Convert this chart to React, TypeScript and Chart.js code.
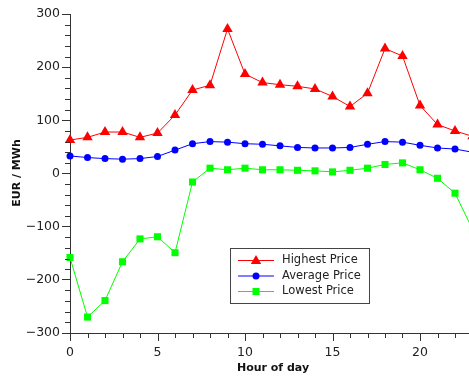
import { useEffect, useRef } from 'react';
import { Chart, registerables } from 'chart.js';

Chart.register(...registerables);

const hours = [0, 1, 2, 3, 4, 5, 6, 7, 8, 9, 10, 11, 12, 13, 14, 15, 16, 17, 18, 19, 20, 21, 22, 23];
const highestPrice = [63, 68, 78, 78, 68, 76, 110, 157, 166, 272, 187, 171, 167, 164, 159, 145, 126, 151, 235, 221, 128, 92, 80, 70];
const averagePrice = [33, 30, 28, 27, 28, 32, 44, 56, 60, 59, 56, 55, 52, 49, 48, 48, 49, 55, 60, 59, 53, 48, 46, 40];
const lowestPrice = [-158, -270, -239, -166, -123, -119, -149, -16, 10, 7, 10, 7, 7, 6, 5, 3, 6, 10, 17, 20, 7, -9, -37, -105];

const seriesLabels = ['Highest Price', 'Average Price', 'Lowest Price'];
const xMajorTicks = [0, 5, 10, 15, 20];
const yMajorTicks = [-300, -200, -100, 0, 100, 200, 300];
const xTitle = 'Hour of day';
const yTitle = 'EUR / MWh';

const FONT = '"DejaVu Sans", sans-serif';
const AXIS = '#333333';

const decorPlugin = {
  id: 'decor',
  afterDraw(chart: any) {
    const ctx = chart.ctx as CanvasRenderingContext2D;
    const xs = chart.scales.x;
    const ys = chart.scales.y;
    const area = chart.chartArea;
    ctx.save();
    // tick marks
    ctx.strokeStyle = AXIS;
    ctx.lineWidth = 1;
    ctx.beginPath();
    for (let v = 0; v <= 22; v++) {
      const px = Math.round(xs.getPixelForValue(v)) + 0.5;
      ctx.moveTo(px, area.bottom);
      ctx.lineTo(px, area.bottom + (v % 5 === 0 ? 8 : 5));
    }
    for (let v = -300; v <= 300; v += 20) {
      if (v % 100 === 0) continue;
      const py = Math.round(ys.getPixelForValue(v)) + 0.5;
      ctx.moveTo(area.left - 5, py);
      ctx.lineTo(area.left, py);
    }
    ctx.stroke();

    // x tick labels
    ctx.fillStyle = '#222';
    ctx.font = `12.5px ${FONT}`;
    ctx.textAlign = 'center';
    ctx.textBaseline = 'middle';
    xMajorTicks.forEach((v) => {
      ctx.fillText(String(v), xs.getPixelForValue(v), 353);
    });

    // axis titles
    ctx.fillStyle = '#111';
    ctx.font = `bold 11px ${FONT}`;
    ctx.textAlign = 'center';
    ctx.textBaseline = 'middle';
    ctx.fillText(xTitle, 273, 368);
    ctx.save();
    ctx.translate(17, 173);
    ctx.rotate(-Math.PI / 2);
    ctx.fillText(yTitle, 0, 0);
    ctx.restore();

    // legend
    const bx = 230.5, by = 248.5, bw = 139, bh = 55;
    ctx.fillStyle = '#ffffff';
    ctx.fillRect(bx, by, bw, bh);
    ctx.strokeStyle = '#444';
    ctx.strokeRect(bx, by, bw, bh);
    chart.data.datasets.forEach((ds: any, i: number) => {
      const y = 260 + i * 15.5;
      ctx.strokeStyle = ds.borderColor;
      ctx.lineWidth = 1;
      ctx.beginPath();
      ctx.moveTo(238, y + 0.5);
      ctx.lineTo(274, y + 0.5);
      ctx.stroke();
      ctx.fillStyle = ds.backgroundColor;
      const cx = 256;
      ctx.beginPath();
      if (ds.pointStyle === 'triangle') {
        const r = 6;
        ctx.moveTo(cx, y - r + 1);
        ctx.lineTo(cx + r * 0.866, y + r / 2 + 1);
        ctx.lineTo(cx - r * 0.866, y + r / 2 + 1);
        ctx.closePath();
      } else if (ds.pointStyle === 'circle') {
        ctx.arc(cx, y + 0.5, 3.5, 0, Math.PI * 2);
      } else {
        ctx.rect(cx - 3.5, y - 3, 7, 7);
      }
      ctx.fill();
      ctx.fillStyle = '#222';
      ctx.font = `11.5px ${FONT}`;
      ctx.textAlign = 'left';
      ctx.textBaseline = 'middle';
      ctx.fillText(ds.label, 282, y + 0.5);
    });
    ctx.restore();
  },
};

export default function App() {
  const ref = useRef<HTMLCanvasElement>(null);
  useEffect(() => {
    document.body.style.margin = '0';
    const canvas = ref.current!;
    const mk = (label: string, data: number[], color: string, style: string, r: number) => ({
      label,
      data: hours.map((h, i) => ({ x: h, y: data[i] })),
      borderColor: color,
      backgroundColor: color,
      borderWidth: 1,
      pointStyle: style,
      pointRadius: r,
      pointBorderWidth: 0,
      tension: 0,
      clip: false as any,
    });
    const chart = new Chart(canvas, {
      type: 'line',
      data: {
        datasets: [
          mk(seriesLabels[0], highestPrice, '#ff0000', 'triangle', 6),
          mk(seriesLabels[1], averagePrice, '#0000ff', 'circle', 3.5),
          mk(seriesLabels[2], lowestPrice, '#00ff00', 'rect', 5),
        ],
      },
      options: {
        animation: false,
        responsive: false,
        maintainAspectRatio: false,
        layout: { autoPadding: false, padding: { top: 14, right: 0, left: 0, bottom: 0 } },
        plugins: { legend: { display: false }, tooltip: { enabled: false } },
        scales: {
          x: {
            type: 'linear',
            min: 0,
            max: 22.8,
            afterBuildTicks: (s: any) => { s.ticks = xMajorTicks.map((v) => ({ value: v })); },
            afterFit: (s: any) => { s.height = 43; },
            grid: { display: false, drawOnChartArea: false, drawTicks: false },
            border: { color: AXIS },
            ticks: { display: false },
          },
          y: {
            type: 'linear',
            min: -300,
            max: 300,
            afterBuildTicks: (s: any) => { s.ticks = yMajorTicks.map((v) => ({ value: v })); },
            afterFit: (s: any) => { s.width = 70; },
            grid: { drawOnChartArea: false, tickLength: 8, color: AXIS },
            border: { color: AXIS },
            ticks: { font: { family: FONT, size: 12.5 }, color: '#222', padding: 2, callback: (v: any) => (v < 0 ? '\u2212' + Math.abs(v) : String(v)) },
          },
        },
      },
      plugins: [decorPlugin],
    });
    return () => chart.destroy();
  }, []);
  return <canvas ref={ref} width={469} height={376} style={{ display: 'block' }} />;
}
